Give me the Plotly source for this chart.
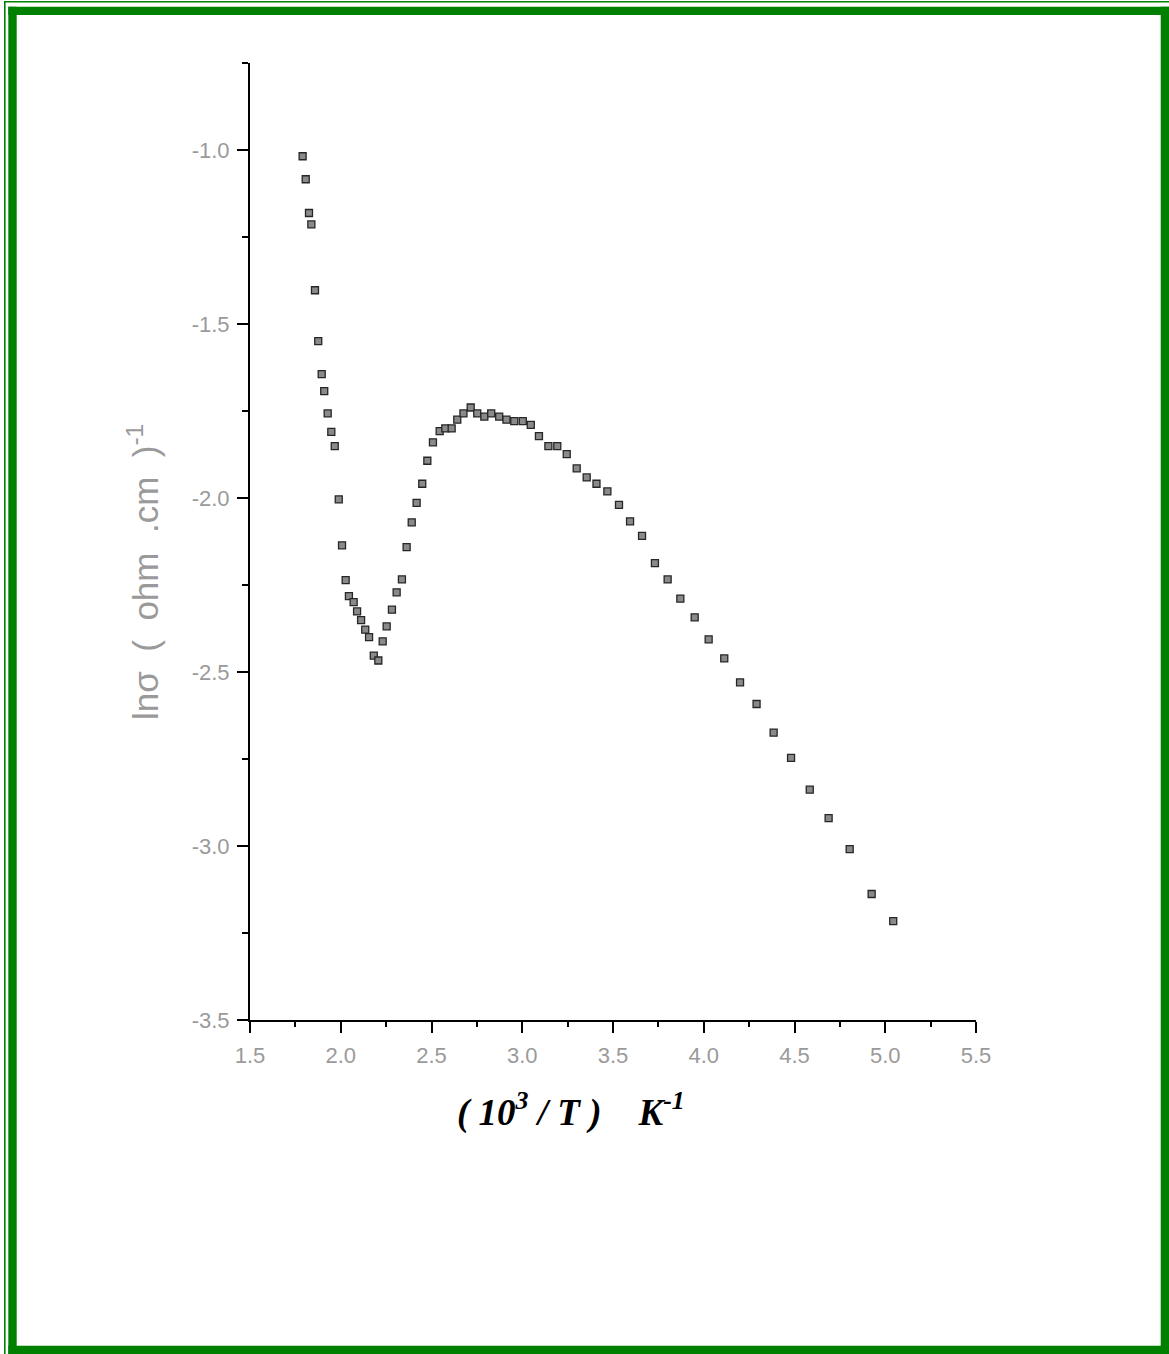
import plotly.graph_objects as go

# ---------------- data ----------------
inv_T = [1.790, 1.807, 1.825, 1.838, 1.858, 1.876, 1.895, 1.909, 1.928, 1.948,
         1.967, 1.989, 2.007, 2.027, 2.045, 2.071, 2.090, 2.112, 2.135, 2.156,
         2.182, 2.207, 2.231, 2.253, 2.282, 2.308, 2.337, 2.363, 2.391, 2.418,
         2.449, 2.477, 2.508, 2.545, 2.576, 2.611, 2.642, 2.676, 2.716, 2.752,
         2.791, 2.829, 2.873, 2.913, 2.956, 3.003, 3.047, 3.092, 3.144, 3.193,
         3.245, 3.300, 3.355, 3.409, 3.469, 3.533, 3.594, 3.660, 3.731, 3.801,
         3.871, 3.950, 4.027, 4.113, 4.200, 4.291, 4.385, 4.481, 4.584, 4.688,
         4.804, 4.925, 5.044]
ln_sigma = [-1.018, -1.084, -1.181, -1.214, -1.403, -1.549, -1.644, -1.693, -1.757, -1.810,
            -1.851, -2.004, -2.136, -2.236, -2.282, -2.299, -2.326, -2.351, -2.378, -2.400,
            -2.453, -2.467, -2.412, -2.369, -2.321, -2.271, -2.234, -2.141, -2.070, -2.014,
            -1.959, -1.893, -1.840, -1.808, -1.800, -1.800, -1.775, -1.757, -1.740, -1.757,
            -1.766, -1.757, -1.766, -1.775, -1.779, -1.779, -1.790, -1.822, -1.851, -1.851,
            -1.874, -1.915, -1.941, -1.959, -1.981, -2.020, -2.067, -2.109, -2.187, -2.234,
            -2.289, -2.343, -2.406, -2.461, -2.530, -2.592, -2.674, -2.747, -2.838, -2.920,
            -3.009, -3.138, -3.216]

x_tickvals = [1.5, 2.0, 2.5, 3.0, 3.5, 4.0, 4.5, 5.0, 5.5]
x_ticktext = ["1.5", "2.0", "2.5", "3.0", "3.5", "4.0", "4.5", "5.0", "5.5"]
y_tickvals = [-3.5, -3.0, -2.5, -2.0, -1.5, -1.0]
y_ticktext = ["-3.5", "-3.0", "-2.5", "-2.0", "-1.5", "-1.0"]

x_title = "( 10<sup>3</sup> / T )\u00a0\u00a0\u00a0\u00a0K<sup>-1</sup>"
y_title = "ln\u03c3\u00a0\u00a0(\u00a0\u00a0ohm\u00a0\u00a0.cm\u00a0\u00a0)<sup>-1</sup>"

# ---------------- layout geometry ----------------
W, H = 1169, 1354
L, R, T, B = 250, 193, 63, 334
PW, PH = W - L - R, H - T - B


def fx(px):
    return (px - L) / PW


def fy(py):
    return (H - B - py) / PH


GREY = "#9a9a9a"
GREEN = "#008000"

fig = go.Figure()
fig.add_trace(go.Scatter(
    x=inv_T, y=ln_sigma, mode="markers",
    marker=dict(symbol="square", size=7, color="#8a8a8a",
                line=dict(color="#262626", width=1.3)),
    showlegend=False, hoverinfo="skip",
))

fig.update_layout(
    width=W, height=H,
    margin=dict(l=L, r=R, t=T, b=B, pad=0),
    paper_bgcolor="white", plot_bgcolor="white",
    font=dict(family="Liberation Sans, Arial, sans-serif", color=GREY, size=22),
    xaxis=dict(
        range=[1.5, 5.5], tickmode="array", tickvals=x_tickvals, ticktext=x_ticktext,
        ticks="outside", ticklen=11, tickwidth=2, tickcolor="black",
        showline=True, linecolor="black", linewidth=2,
        showgrid=False, zeroline=False, ticklabelstandoff=4,
        tickfont=dict(size=22, color=GREY),
        minor=dict(ticks="outside", ticklen=5, tickwidth=2, tickcolor="black",
                   dtick=0.25, tick0=1.5, showgrid=False),
    ),
    yaxis=dict(
        range=[-3.5, -0.75], tickmode="array", tickvals=y_tickvals, ticktext=y_ticktext,
        ticks="outside", ticklen=11, tickwidth=2, tickcolor="black",
        showline=True, linecolor="black", linewidth=2,
        showgrid=False, zeroline=False, ticklabelstandoff=3,
        tickfont=dict(size=22, color=GREY),
        minor=dict(ticks="outside", ticklen=6, tickwidth=2, tickcolor="black",
                   dtick=0.25, tick0=-3.5, showgrid=False),
    ),
)

# axis titles as annotations (positioned like the reference)
fig.add_annotation(
    text=y_title, textangle=-90, showarrow=False,
    xref="paper", yref="paper", x=fx(143), y=fy(572),
    xanchor="center", yanchor="middle",
    font=dict(family="Liberation Sans, Arial, sans-serif", size=35, color=GREY),
)
fig.add_annotation(
    text="<b><i>" + x_title + "</i></b>", showarrow=False,
    xref="paper", yref="paper", x=fx(571), y=fy(1110),
    xanchor="center", yanchor="middle",
    font=dict(family="Liberation Serif, Times New Roman, serif", size=37, color="black"),
)

# green frame (thin outer line + thick inner line)
shapes = []
shapes.append(dict(type="rect", xref="paper", yref="paper",
                   x0=fx(4.8), x1=fx(W + 5), y0=fy(1.8), y1=fy(H + 5),
                   line=dict(color=GREEN, width=1.6), fillcolor="rgba(0,0,0,0)", layer="above"))
for (x0, x1, y0, y1) in [(8.3, 16.7, 6.7, H), (8.3, W, 6.7, 15.0),
                         (1160.7, W, 6.7, H), (8.3, W, 1345.7, H)]:
    shapes.append(dict(type="rect", xref="paper", yref="paper",
                       x0=fx(x0), x1=fx(x1), y0=fy(y0), y1=fy(y1),
                       line=dict(width=0), fillcolor=GREEN, layer="above"))
fig.update_layout(shapes=shapes)

fig.write_html("out.html", config={"displayModeBar": False},
               post_script="document.body.style.margin='0';")
